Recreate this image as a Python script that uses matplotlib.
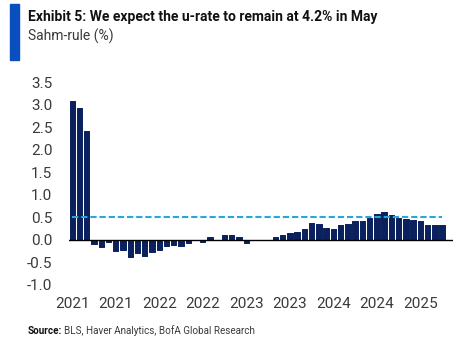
import matplotlib
matplotlib.use("Agg")
import matplotlib.pyplot as plt
from matplotlib.patches import Rectangle
import numpy as np

plt.rcParams['font.family'] = ['Roboto', 'DejaVu Sans']

# monthly Sahm-rule readings, Jan 2021 onward
sahm = [3.07, 2.92, 2.42, -0.09, -0.15, -0.05, -0.25, -0.22, -0.38, -0.29,
        -0.35, -0.27, -0.22, -0.14, -0.12, -0.14, -0.07, 0.0, -0.05, 0.06,
        0.0, 0.10, 0.10, 0.06, -0.08, 0.0, 0.0, 0.0, 0.07, 0.11,
        0.16, 0.18, 0.24, 0.38, 0.35, 0.27, 0.24, 0.32, 0.35, 0.42,
        0.42, 0.48, 0.57, 0.61, 0.55, 0.48, 0.47, 0.44, 0.42, 0.33,
        0.33, 0.33]
threshold = 0.5
tick_labels = ['2021', '2021', '2022', '2022', '2023', '2023', '2024', '2024', '2025']
yticks = [3.5, 3.0, 2.5, 2.0, 1.5, 1.0, 0.5, 0.0, -0.5, -1.0]

navy = '#0b215e'
light_blue = '#2ba6dc'
label_grey = '#3a3a3a'

fig = plt.figure(figsize=(4.73, 3.42), dpi=100)
W, H = 473, 342
ax = fig.add_axes([69 / W, (H - 285) / H, (453 - 69) / W, (285 - 82) / H])

x = np.arange(len(sahm))
# no outline on empty months so they stay blank
edge_w = [0.7 if v != 0 else 0 for v in sahm]
ax.bar(x, sahm, width=0.74, color=navy, edgecolor=navy, linewidth=edge_w,
       joinstyle='round', zorder=2)
ax.axhline(0, color='black', linewidth=1.0, zorder=3)
ax.hlines(threshold, 0, len(sahm) - 1, colors=light_blue, linewidth=1.5,
          linestyles=(0, (3, 1.4)), zorder=4)

ax.set_xlim(-0.45, 52.5)
ax.set_ylim(-1.0, 3.5)
ax.set_yticks(yticks)
ax.set_yticklabels([f'{v:.1f}' for v in yticks])
ax.set_xticks(np.arange(0, 49, 6))
ax.set_xticklabels(tick_labels)
ax.tick_params(axis='both', length=0, labelsize=11, colors=label_grey)
ax.tick_params(axis='y', pad=12)
ax.tick_params(axis='x', pad=9)
for s in ax.spines.values():
    s.set_visible(False)

# header block
fig.patches.append(Rectangle((10 / W, 1 - 60 / H), 9 / W, 56 / H,
                             transform=fig.transFigure, color='#0a4fc0'))
fig.text(28 / W, 1 - 17 / H, 'Exhibit 5: We expect the u-rate to remain at 4.2% in May',
         fontsize=10, fontweight='bold', va='center', ha='left', color='#111111')
fig.text(28 / W, 1 - 36 / H, 'Sahm-rule (%)', fontsize=10,
         va='center', ha='left', color=label_grey)

# footer
src = fig.text(28 / W, 1 - 331 / H, 'Source:', fontsize=7.1, fontweight='bold',
               va='center', ha='left', color='#111111')
fig.canvas.draw()
bb = src.get_window_extent()
fig.text(bb.x1 / W + 2 / W, 1 - 331 / H, 'BLS, Haver Analytics, BofA Global Research',
         fontsize=7.1, va='center', ha='left', color=label_grey)

fig.savefig('out.png', dpi=100)
